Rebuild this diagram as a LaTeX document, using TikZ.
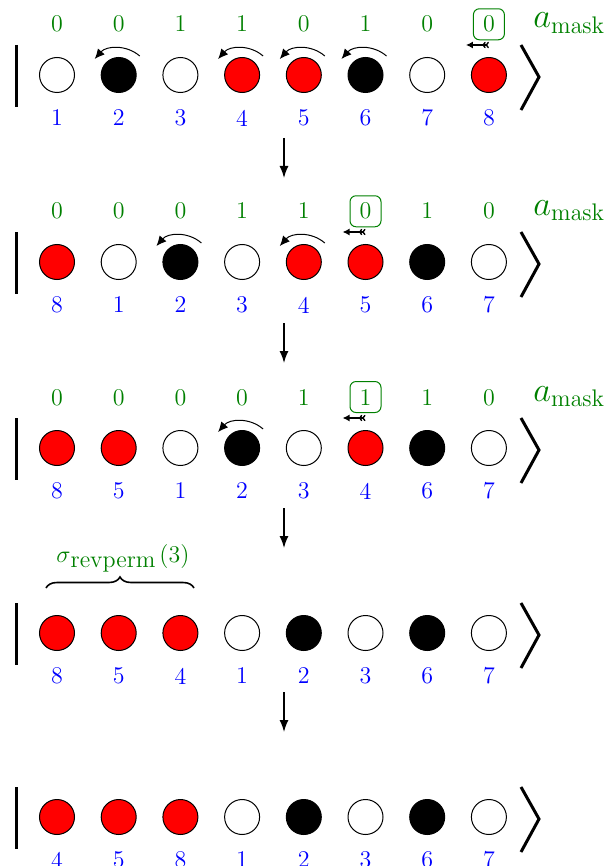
\documentclass[tikz,border=0pt]{standalone}
\usetikzlibrary{arrows.meta,decorations.pathreplacing}
\definecolor{mgreen}{RGB}{0,128,0}
\newcommand\ballrow[4]{%
  \foreach \cc [count=\i] in {#3} {\node[ball,fill=\cc] (#1c\i) at ({57+61.7*(\i-1)},#2) {};}
  \foreach \ll [count=\i] in {#4} {\node[lab] (#1l\i) at ({57+61.7*(\i-1)},#2+43) {\ll};}
  \coordinate (#1bt) at (16,#2-30);
  \coordinate (#1bb) at (16,#2+32);
  \coordinate (#1at) at (521,#2-30);
  \coordinate (#1am) at (539,#2+2);
  \coordinate (#1ab) at (521,#2+35);
  \draw[bar] (#1bt) -- (#1bb);
  \draw[bar] (#1at) -- (#1am) -- (#1ab);
}
\newcommand\maskrow[3]{%
  \foreach \mm [count=\i] in {#3} {\node[mask] (#1m\i) at ({57+61.7*(\i-1)},#2-43) {\mm};}
}
\newcommand\curvarr[1]{\draw[curv] ([shift={(21,-19)}]#1.center) to[bend right=45] ([shift={(-24,-16)}]#1.center);}
\newcommand\smallarr[1]{\draw[smallarrow] ([shift={(0,-30)}]#1.center) -- ([shift={(-23,-30)}]#1.center);}
\begin{document}
\begin{tikzpicture}[x=0.5pt,y=-0.5pt,
  ball/.style={circle,draw=black,line width=0.5pt,minimum size=17.5pt,inner sep=0pt},
  mask/.style={text=mgreen,font=\large,inner sep=1pt,anchor=base},
  lab/.style={text=blue,font=\large,inner sep=1pt},
  boxed/.style={mask,draw=mgreen,line width=0.5pt,rounded corners=3pt,minimum size=15.5pt,inner sep=2pt},
  bar/.style={line width=1.5pt},
  curv/.style={-{Latex[length=5pt,width=4.5pt]},line width=0.5pt},
  down/.style={-{Latex[length=6pt,width=4.5pt]},line width=0.7pt},
  smallarrow/.style={{>[length=1.6pt,width=3.2pt,sep=0pt]>[length=1.6pt,width=3.2pt]}-{Latex[length=3.5pt,width=3.5pt]},line width=0.7pt},
  amask/.style={text=mgreen,font=\LARGE,anchor=base west,inner sep=0pt}
]
\useasboundingbox (0,0) rectangle (606,866);

% Row 1
\ballrow{a}{75}{white,black,white,red,red,black,white,red}{1,2,3,4,5,6,7,8}
\maskrow{a}{75}{0,0,1,1,0,1,0}
\node[boxed] (am8) at (488.9,32) {0};
\node[amask] (aA) at (533,28) {$a_{\mathrm{mask}}$};
\curvarr{ac2}\curvarr{ac4}\curvarr{ac5}\curvarr{ac6}
\smallarr{ac8}

% Row 2
\ballrow{b}{262}{red,white,black,white,red,red,black,white}{8,1,2,3,4,5,6,7}
\maskrow{b}{262}{0,0,0,1,1}
\node[boxed] (bm6) at (365.5,219) {0};
\node[mask] (bm7) at (427.2,219) {1};
\node[mask] (bm8) at (488.9,219) {0};
\node[amask] (bA) at (533,215) {$a_{\mathrm{mask}}$};
\curvarr{bc3}\curvarr{bc5}
\smallarr{bc6}

% Row 3
\ballrow{c}{448}{red,red,white,black,white,red,black,white}{8,5,1,2,3,4,6,7}
\maskrow{c}{448}{0,0,0,0,1}
\node[boxed] (cm6) at (365.5,405) {1};
\node[mask] (cm7) at (427.2,405) {1};
\node[mask] (cm8) at (488.9,405) {0};
\node[amask] (cA) at (533,401) {$a_{\mathrm{mask}}$};
\curvarr{cc4}
\smallarr{cc6}

% Row 4
\ballrow{d}{633}{red,red,red,white,black,white,black,white}{8,5,4,1,2,3,6,7}
\coordinate (br1) at (46,588);
\coordinate (br2) at (194,588);
\draw[decorate,decoration={brace,amplitude=5.5pt},line width=0.8pt] (br1) -- (br2);
\node[text=mgreen,font=\large,anchor=base west,inner sep=0pt] (sig) at (56,562) {$\sigma$\raisebox{-2.5pt}{revperm}\,$(3)$};

% Row 5
\ballrow{e}{817}{red,red,red,white,black,white,black,white}{4,5,8,1,2,3,6,7}

% Down arrows
\coordinate (s1) at (284,138); \coordinate (e1) at (284,178);
\coordinate (s2) at (284,323); \coordinate (e2) at (284,363);
\coordinate (s3) at (284,508); \coordinate (e3) at (284,548);
\coordinate (s4) at (284,692); \coordinate (e4) at (284,732);
\draw[down] (s1) -- (e1);
\draw[down] (s2) -- (e2);
\draw[down] (s3) -- (e3);
\draw[down] (s4) -- (e4);
\end{tikzpicture}
\end{document}
